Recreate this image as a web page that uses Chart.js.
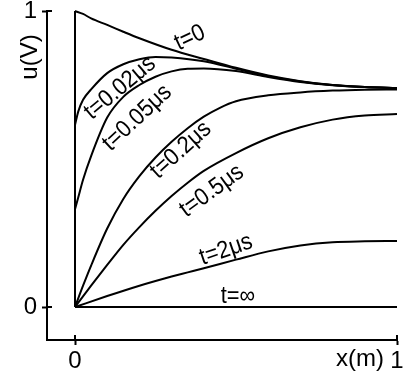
<!DOCTYPE html>
<html>
<head>
<meta charset="utf-8">
<script src="https://cdn.jsdelivr.net/npm/chart.js@4"></script>
<style>
  html, body { margin: 0; padding: 0; background: #fff; }
  #chart { display: block; }
</style>
</head>
<body>
<canvas id="chart" width="406" height="378"></canvas>
<script>
// voltage u (V) along the line x (m)
const xEdge = [0, 0];
const uEdge = [0, 1];

const xT0 = [0, 0.025, 0.05, 0.1, 0.15, 0.2, 0.3, 0.4, 0.5, 0.6, 0.7, 0.8, 0.9, 1];
const uT0 = [1, 0.99, 0.975, 0.953, 0.93, 0.908, 0.869, 0.838, 0.808, 0.782, 0.763, 0.75, 0.743, 0.74];

const xT002 = [0, 0.01, 0.025, 0.05, 0.1, 0.15, 0.2, 0.25, 0.3, 0.4, 0.5, 0.6, 0.7, 0.8, 0.9, 1];
const uT002 = [0.615, 0.66, 0.70, 0.735, 0.79, 0.82, 0.837, 0.845, 0.843, 0.83, 0.805, 0.78, 0.762, 0.75, 0.743, 0.74];

const xT005 = [0, 0.01, 0.025, 0.05, 0.1, 0.15, 0.2, 0.25, 0.3, 0.35, 0.4, 0.5, 0.6, 0.7, 0.8, 0.9, 1];
const uT005 = [0.33, 0.37, 0.43, 0.51, 0.64, 0.71, 0.75, 0.778, 0.796, 0.805, 0.806, 0.797, 0.777, 0.76, 0.749, 0.743, 0.74];

const xT02 = [0, 0.025, 0.05, 0.1, 0.15, 0.2, 0.25, 0.3, 0.35, 0.4, 0.45, 0.5, 0.6, 0.7, 0.8, 0.9, 1];
const uT02 = [0, 0.072, 0.14, 0.265, 0.365, 0.442, 0.505, 0.558, 0.604, 0.643, 0.673, 0.695, 0.715, 0.725, 0.731, 0.734, 0.735];

const xT05 = [0, 0.05, 0.1, 0.15, 0.2, 0.25, 0.3, 0.35, 0.4, 0.5, 0.6, 0.7, 0.8, 0.9, 1];
const uT05 = [0, 0.072, 0.142, 0.21, 0.27, 0.325, 0.375, 0.42, 0.46, 0.52, 0.57, 0.607, 0.633, 0.647, 0.652];

const xT2 = [0, 0.1, 0.2, 0.25, 0.3, 0.35, 0.4, 0.5, 0.6, 0.7, 0.8, 0.9, 1];
const uT2 = [0, 0.037, 0.072, 0.088, 0.103, 0.117, 0.131, 0.16, 0.188, 0.208, 0.219, 0.222, 0.223];

const xTinf = [0, 1];
const uTinf = [0, 0];

const xTicks = [0, 1];
const yTicks = [0, 1];

const curveLabels = ['t=0', 't=0.02μs', 't=0.05μs', 't=0.2μs', 't=0.5μs', 't=2μs', 't=∞'];

const FONT = "'Liberation Sans', Arial, sans-serif";

function pts(xs, us) {
    return xs.map((x, i) => ({ x: x, y: us[i] }));
}

function curve(xs, us, smooth) {
    return {
        data: pts(xs, us),
        borderColor: '#000',
        borderWidth: 2,
        pointRadius: 0,
        fill: false,
        clip: false,
        cubicInterpolationMode: smooth ? 'monotone' : 'default',
        tension: 0
    };
}

// labels along the curves, placed in data units
const labelPlaces = [
    { x: 0.357, y: 0.909, rot: -25 },
    { x: 0.14, y: 0.74, rot: -40 },
    { x: 0.193, y: 0.639, rot: -43 },
    { x: 0.329, y: 0.53, rot: -42 },
    { x: 0.425, y: 0.392, rot: -36 },
    { x: 0.469, y: 0.193, rot: -19 },
    { x: 0.506, y: 0.037, rot: 0 }
];

const annotate = {
    id: 'annotate',
    afterDraw(chart) {
        const ctx = chart.ctx;
        const xs = chart.scales.x;
        const ys = chart.scales.y;
        const area = chart.chartArea;
        ctx.save();
        ctx.fillStyle = '#000';
        ctx.strokeStyle = '#000';
        ctx.lineWidth = 2;

        // tick marks poke into the plot a little too
        ctx.beginPath();
        xTicks.forEach(v => {
            const px = xs.getPixelForValue(v);
            ctx.moveTo(px, area.bottom);
            ctx.lineTo(px, area.bottom - 5);
        });
        yTicks.forEach(v => {
            const py = ys.getPixelForValue(v);
            ctx.moveTo(area.left, py);
            ctx.lineTo(area.left + 5, py);
        });
        ctx.stroke();

        ctx.font = '23px ' + FONT;
        ctx.textAlign = 'center';
        ctx.textBaseline = 'middle';
        curveLabels.forEach((txt, i) => {
            const p = labelPlaces[i];
            ctx.save();
            ctx.translate(xs.getPixelForValue(p.x), ys.getPixelForValue(p.y));
            ctx.rotate(p.rot * Math.PI / 180);
            ctx.scale(0.95, 1.05);
            ctx.fillText(txt, 0, 0);
            ctx.restore();
        });

        // axis names
        ctx.font = '24px ' + FONT;
        ctx.textAlign = 'right';
        ctx.fillText('x(m)', xs.getPixelForValue(1) - 13, 359);
        ctx.save();
        ctx.translate(30, 57);
        ctx.rotate(-Math.PI / 2);
        ctx.textAlign = 'center';
        ctx.fillText('u(V)', 0, 0);
        ctx.restore();
        ctx.restore();
    }
};

function noPad(axis) {
    axis.paddingTop = 0;
    axis.paddingBottom = 0;
    axis.paddingLeft = 0;
    axis.paddingRight = 0;
}

new Chart(document.getElementById('chart'), {
    type: 'line',
    data: {
        datasets: [
            curve(xEdge, uEdge, false),
            curve(xT0, uT0, true),
            curve(xT002, uT002, true),
            curve(xT005, uT005, true),
            curve(xT02, uT02, true),
            curve(xT05, uT05, true),
            curve(xT2, uT2, true),
            curve(xTinf, uTinf, false)
        ]
    },
    options: {
        responsive: false,
        animation: false,
        devicePixelRatio: 1,
        layout: { padding: { top: 11, right: 9, left: 0, bottom: 0 } },
        plugins: { legend: { display: false }, tooltip: { enabled: false } },
        scales: {
            x: {
                type: 'linear',
                min: -28 / 322,
                max: 1,
                afterBuildTicks: axis => { axis.ticks = xTicks.map(v => ({ value: v })); },
                afterFit: axis => { axis.height = 38; noPad(axis); },
                grid: { drawOnChartArea: false, drawTicks: true, tickLength: 5, tickWidth: 2, color: '#000' },
                border: { display: true, color: '#000', width: 2 },
                ticks: { color: '#000', font: { family: FONT, size: 24, lineHeight: 1 }, padding: 4, maxRotation: 0 }
            },
            y: {
                type: 'linear',
                min: -33 / 296,
                max: 1,
                afterBuildTicks: axis => { axis.ticks = yTicks.map(v => ({ value: v })); },
                afterFit: axis => { axis.width = 47; noPad(axis); },
                grid: { drawOnChartArea: false, drawTicks: true, tickLength: 5, tickWidth: 2, color: '#000' },
                border: { display: true, color: '#000', width: 2 },
                ticks: { color: '#000', font: { family: FONT, size: 24, lineHeight: 1 }, padding: 5 }
            }
        }
    },
    plugins: [annotate]
});
</script>
</body>
</html>
